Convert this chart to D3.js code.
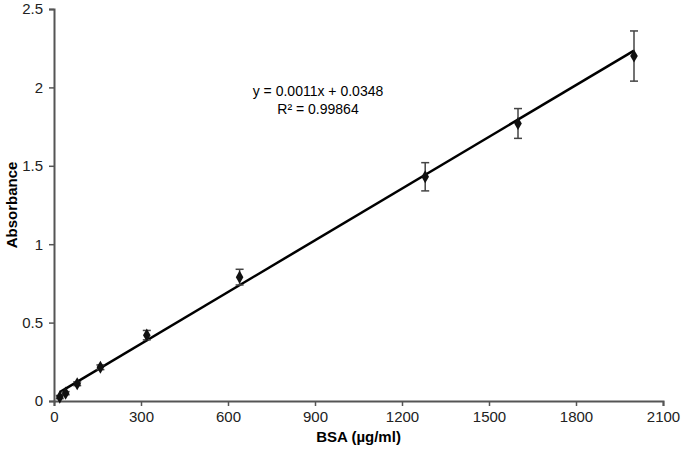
<!DOCTYPE html>
<meta charset="utf-8">
<style>
  body { margin: 0; background: #fff; }
  text { font-family: "Liberation Sans", Arial, sans-serif; }
</style>
<body>
<script src="https://d3js.org/d3.v7.min.js"></script>
<script>

var width = 683,
    height = 453;

// BSA standard curve
var bsa = [20, 40, 80, 160, 320, 640, 1280, 1600, 2000];
var absorbance = [0.025, 0.05, 0.11, 0.215, 0.42, 0.79, 1.43, 1.77, 2.2];
var errors = [0.01, 0.01, 0.012, 0.015, 0.03, 0.05, 0.09, 0.095, 0.16];
var xTicks = [0, 300, 600, 900, 1200, 1500, 1800, 2100];
var yTicks = [0, 0.5, 1, 1.5, 2, 2.5];
var slope = 0.0011, intercept = 0.0348;

var margin = {left: 54, right: 20, top: 9, bottom: 52};

var svg = d3.select("body").append("svg")
    .attr("width", width)
    .attr("height", height);

var x = d3.scaleLinear().domain([0, 2100]).range([margin.left, width - margin.right]);
var y = d3.scaleLinear().domain([0, 2.5]).range([height - margin.bottom, margin.top]);

var axisColor = "#555";

var xAxis = svg.append("g")
    .attr("transform", "translate(0," + y(0) + ")")
    .call(d3.axisBottom(x).tickValues(xTicks).tickSize(5).tickPadding(5).tickFormat(d3.format("d")));
var yAxis = svg.append("g")
    .attr("transform", "translate(" + x(0) + ",0)")
    .call(d3.axisLeft(y).tickValues(yTicks).tickSize(5).tickPadding(6).tickFormat(function(d) { return d; }));

[xAxis, yAxis].forEach(function(a) {
  a.select(".domain").attr("stroke", axisColor).attr("stroke-width", 2);
  a.selectAll(".tick line").attr("stroke", axisColor).attr("stroke-width", 1.5);
  a.selectAll(".tick text").attr("fill", "#222").style("font-size", "15px");
});

// trendline
svg.append("line")
    .attr("x1", x(bsa[0])).attr("y1", y(slope * bsa[0] + intercept))
    .attr("x2", x(bsa[bsa.length - 1])).attr("y2", y(slope * bsa[bsa.length - 1] + intercept))
    .attr("stroke", "#000")
    .attr("stroke-width", 2.5);

// error bars
var eb = svg.append("g").selectAll("g")
    .data(bsa)
    .enter().append("g");
eb.append("line")
    .attr("x1", function(d) { return x(d); })
    .attr("x2", function(d) { return x(d); })
    .attr("y1", function(d, i) { return y(absorbance[i] + errors[i]); })
    .attr("y2", function(d, i) { return y(absorbance[i] - errors[i]); })
    .attr("stroke", "#444").attr("stroke-width", 1.5);
eb.selectAll(".cap")
    .data(function(d, i) { return [[d, absorbance[i] + errors[i]], [d, absorbance[i] - errors[i]]]; })
    .enter().append("line")
    .attr("x1", function(d) { return x(d[0]) - 4; })
    .attr("x2", function(d) { return x(d[0]) + 4; })
    .attr("y1", function(d) { return y(d[1]); })
    .attr("y2", function(d) { return y(d[1]); })
    .attr("stroke", "#444").attr("stroke-width", 1.5);

// markers
svg.append("g").selectAll("path")
    .data(bsa)
    .enter().append("path")
    .attr("d", d3.symbol().type(d3.symbolDiamond).size(50))
    .attr("transform", function(d, i) { return "translate(" + x(d) + "," + y(absorbance[i]) + ")"; })
    .attr("fill", "#111");

// equation
svg.append("text")
    .attr("x", 318).attr("y", 96)
    .attr("text-anchor", "middle")
    .style("font-size", "14px")
    .text("y = 0.0011x + 0.0348");
svg.append("text")
    .attr("x", 318).attr("y", 114)
    .attr("text-anchor", "middle")
    .style("font-size", "14px")
    .text("R² = 0.99864");

// axis titles
svg.append("text")
    .attr("x", (x(0) + x(2100)) / 2).attr("y", 442)
    .attr("text-anchor", "middle")
    .style("font-size", "15px").style("font-weight", "bold")
    .text("BSA (µg/ml)");
svg.append("text")
    .attr("transform", "translate(17," + y(1.25) + ") rotate(-90)")
    .attr("text-anchor", "middle")
    .style("font-size", "15px").style("font-weight", "bold")
    .text("Absorbance");

</script>
</body>
